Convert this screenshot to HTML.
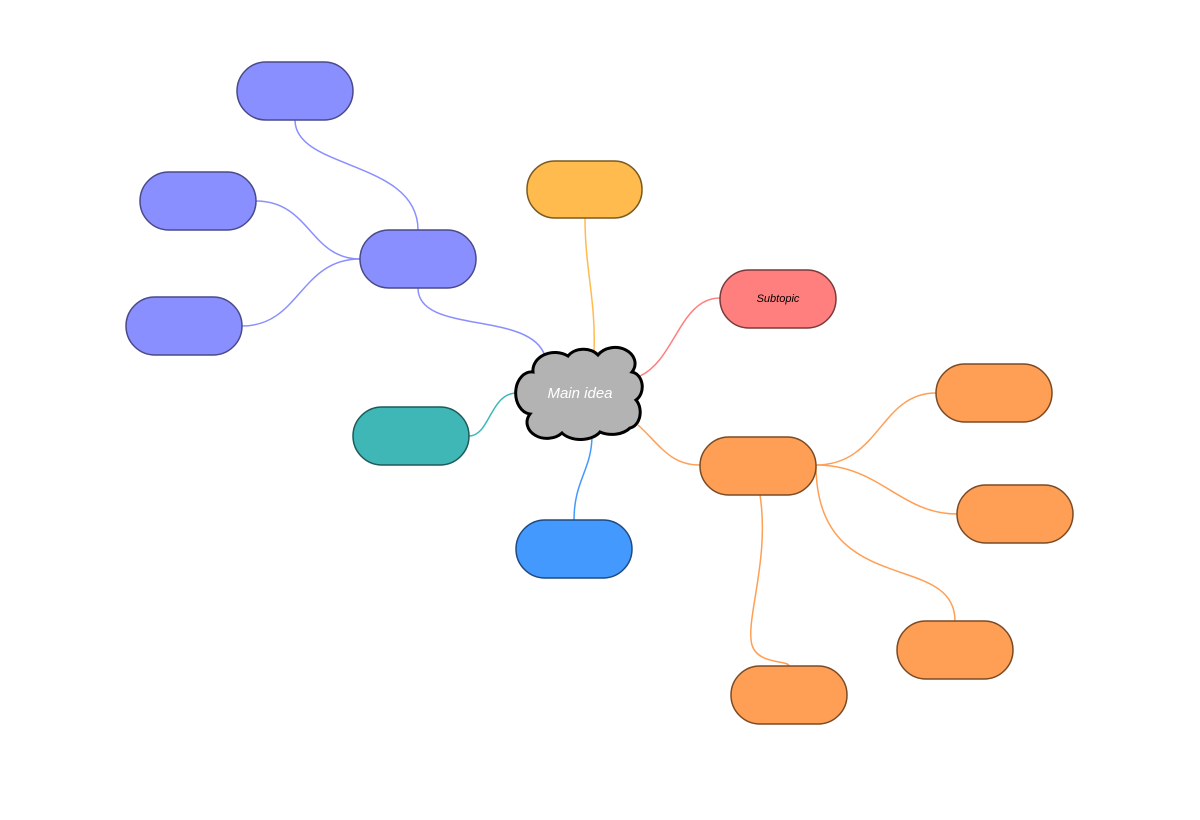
<!DOCTYPE html>
<html><head><style>body{margin:0;background:#fff}svg{display:block}</style></head><body>
<svg width="1200" height="820" xmlns="http://www.w3.org/2000/svg" font-family="Liberation Sans, sans-serif">
<g fill="none" stroke-width="1.5">
<path d="M295,120 C295,170 418,160 418,230" stroke="#8a8fff"/>
<path d="M256,201 C310,201 310,259 360,259" stroke="#8a8fff"/>
<path d="M242,326 C300,326 300,259 360,259" stroke="#8a8fff"/>
<path d="M418,288 C418,335 530,310 545,356" stroke="#8a8fff"/>
<path d="M585,218 C585,270 596,300 594,352" stroke="#ffbb4d"/>
<path d="M720,298 C680,298 675,360 640,376" stroke="#ff7f7f"/>
<path d="M469,436 C490,436 490,393 517,393" stroke="#3fb7b7"/>
<path d="M574,520 C574,480 592,470 592,435" stroke="#4499ff"/>
<path d="M700,465 C670,465 660,445 638,425" stroke="#ff9f55"/>
<path d="M816,465 C880,465 880,393 936,393" stroke="#ff9f55"/>
<path d="M816,465 C880,465 900,514 957,514" stroke="#ff9f55"/>
<path d="M816,465 C816,600 955,550 955,621" stroke="#ff9f55"/>
<path d="M760,495 C770,560 745,620 752,645 C758,665 789,660 789,666" stroke="#ff9f55"/>
</g>
<g stroke-width="1.5">
<rect x="237" y="62" width="116" height="58" rx="29" fill="#8a8fff" stroke="#4a4a8a"/>
<rect x="140" y="172" width="116" height="58" rx="29" fill="#8a8fff" stroke="#4a4a8a"/>
<rect x="126" y="297" width="116" height="58" rx="29" fill="#8a8fff" stroke="#4a4a8a"/>
<rect x="360" y="230" width="116" height="58" rx="29" fill="#8a8fff" stroke="#4a4a8a"/>
<rect x="527" y="161" width="115" height="57" rx="28" fill="#ffbb4d" stroke="#7a5a20"/>
<rect x="720" y="270" width="116" height="58" rx="29" fill="#ff7f7f" stroke="#7a3a3a"/>
<rect x="353" y="407" width="116" height="58" rx="29" fill="#3fb7b7" stroke="#1d5a5a"/>
<rect x="516" y="520" width="116" height="58" rx="29" fill="#4499ff" stroke="#1f4a80"/>
<rect x="700" y="437" width="116" height="58" rx="29" fill="#ff9f55" stroke="#7a4a25"/>
<rect x="936" y="364" width="116" height="58" rx="29" fill="#ff9f55" stroke="#7a4a25"/>
<rect x="957" y="485" width="116" height="58" rx="29" fill="#ff9f55" stroke="#7a4a25"/>
<rect x="897" y="621" width="116" height="58" rx="29" fill="#ff9f55" stroke="#7a4a25"/>
<rect x="731" y="666" width="116" height="58" rx="29" fill="#ff9f55" stroke="#7a4a25"/>
</g>
<path d="M533,372 A22,18 0 0 1 568,356 A18,14 0 0 1 598,355 A20,16 0 0 1 632,372 A12,15 0 0 1 636,400 A12,16 0 0 1 630,428 A22,15 0 0 1 600,432 A22,14 0 0 1 562,433 A20,16 0 0 1 530,414 A15,20 0 0 1 533,372 Z" fill="#b3b3b3" stroke="#000" stroke-width="3"/>
<text x="580" y="398" text-anchor="middle" font-size="15" font-style="italic" fill="#fff">Main idea</text>
<text x="778" y="302" text-anchor="middle" font-size="11" font-style="italic" fill="#000">Subtopic</text>
</svg>
</body></html>
